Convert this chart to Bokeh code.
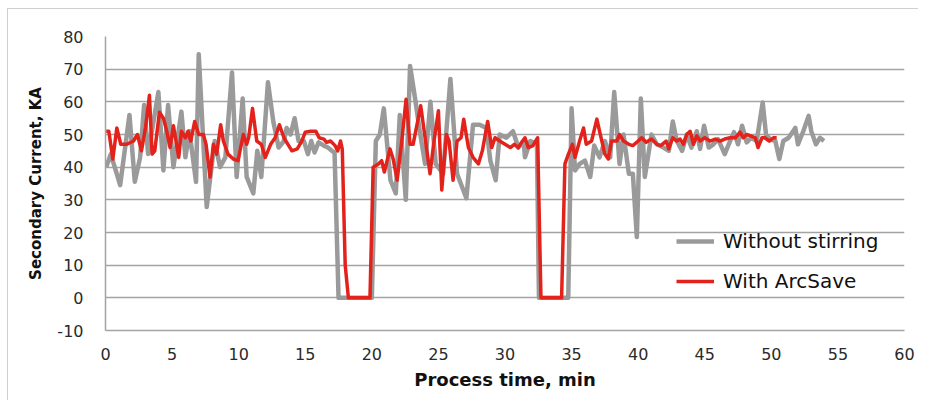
from bokeh.plotting import figure
from bokeh.models import Legend, LegendItem, FixedTicker
from bokeh.embed import file_html
from bokeh.resources import INLINE

# Without stirring (grey)
t_without = [0.05, 0.4, 1.1, 1.8, 2.2, 2.6, 2.9, 3.2, 3.97, 4.35, 4.7, 5.1, 5.7, 6.0, 6.3, 6.8, 7.0, 7.6,
             8.2, 8.6, 9.0, 9.5, 9.85, 10.3, 10.6, 11.1, 11.4, 11.7, 12.2, 12.6, 13.0, 13.4, 13.6, 13.9,
             14.2, 14.5, 14.9, 15.2, 15.45, 15.7, 16.0, 16.4, 16.7, 17.0, 17.2, 17.5, 20.0, 20.3, 20.6,
             20.9, 21.4, 21.8, 22.1, 22.55, 22.87, 23.25, 23.6, 24.0, 24.4, 24.8, 25.35, 25.9, 26.4, 27.1,
             27.6, 28.1, 28.6, 28.9, 29.3, 29.6, 30.1, 30.6, 31.0, 31.4, 31.5, 31.9, 32.4, 32.55, 34.75,
             35.0, 35.26, 35.6, 36.0, 36.4, 36.7, 37.1, 37.5, 37.9, 38.2, 38.6, 38.9, 39.3, 39.6, 39.9,
             40.2, 40.5, 41.0, 41.4, 41.9, 42.3, 42.6, 42.9, 43.3, 43.65, 44.0, 44.4, 44.65, 44.95, 45.3,
             45.65, 46.0, 46.5, 46.9, 47.2, 47.5, 47.8, 48.15, 48.5, 48.9, 49.35, 49.6, 49.9, 50.3, 50.6,
             50.9, 51.3, 51.8, 52.0, 52.4, 52.8, 53.0, 53.35, 53.65, 53.95]
i_without = [40, 44, 34.5, 56, 35.5, 43, 59, 44, 63, 39, 59, 40, 57, 43, 51, 35.5, 74.6, 27.8,
             48, 40, 43, 69, 37, 61, 37, 32, 45, 37, 66, 54, 46, 48, 52, 50,
             55, 48, 48, 44, 48, 44.5, 47.6, 46.6, 46, 45, 44.5, 0, 0, 48, 50,
             58, 36, 32, 56, 30, 71, 61, 51, 41, 60, 41, 38, 67, 38, 30.5,
             53, 53, 52, 42, 36, 50, 49, 51, 46, 48, 43, 48, 47, 0, 0,
             58, 39, 41, 42, 37, 46.6, 43, 48, 43, 63, 41, 50, 38, 38, 18.6,
             61, 37, 50, 47, 46, 45, 54, 48, 45, 50, 46, 51, 45.6, 52.7, 46,
             47, 48.6, 44, 48, 50.7, 47, 52.7, 47.6, 49, 48, 59.8, 50, 48.6, 48, 42.5,
             48, 49, 52, 47, 51, 55.7, 51, 47, 49, 48]

# With ArcSave (red)
t_arcsave = [0.05, 0.25, 0.55, 0.85, 1.15, 1.6, 2.1, 2.4, 2.7, 3.0, 3.3, 3.5, 3.7, 4.05, 4.35, 4.6, 4.85,
             5.1, 5.5, 5.7, 6.0, 6.2, 6.4, 6.7, 7.0, 7.35, 7.55, 7.85, 8.1, 8.35, 8.65, 8.85, 9.2, 9.6,
             9.95, 10.35, 10.6, 10.75, 11.04, 11.36, 11.7, 12.0, 12.4, 12.74, 13.06, 13.4, 13.7, 14.0,
             14.4, 14.74, 15.0, 15.4, 15.8, 16.04, 16.4, 16.6, 16.9, 17.24, 17.44, 17.65, 17.78, 18.0,
             18.24, 19.86, 20.1, 20.5, 20.74, 20.94, 21.36, 21.6, 21.9, 22.25, 22.57, 22.87, 23.1, 23.67,
             24.0, 24.37, 24.67, 25.0, 25.25, 25.6, 25.8, 26.1, 26.4, 26.7, 26.9, 27.25, 27.6, 28.0, 28.3,
             28.7, 29.0, 29.25, 29.6, 30.0, 30.4, 30.7, 31.0, 31.25, 31.5, 31.75, 32.1, 32.45, 32.7, 34.25,
             34.5, 34.76, 35.06, 35.26, 35.6, 35.9, 36.1, 36.5, 36.9, 37.1, 37.5, 37.76, 38.0, 38.4, 38.6,
             38.9, 39.3, 39.6, 40.0, 40.26, 40.6, 41.0, 41.4, 41.7, 42.1, 42.3, 42.6, 42.9, 43.15, 43.4,
             43.65, 43.9, 44.15, 44.4, 44.65, 45.0, 45.4, 45.8, 46.15, 46.5, 46.9, 47.3, 47.65, 47.9, 48.15,
             48.45, 48.8, 49.0, 49.3, 49.5, 49.85, 50.15, 50.4]
i_arcsave = [51, 51, 42.5, 52, 47, 47, 48, 50, 45, 52, 62, 44, 45, 56.8, 55, 51, 46,
             52.7, 43, 51, 49, 51, 48, 54, 50, 50, 47, 37, 47, 44, 53, 48, 44, 42.5,
             42, 50, 47, 49, 58, 48, 47, 43, 47, 49, 53, 49, 47, 45,
             45.6, 48, 50.7, 51, 51, 49, 48.6, 47.6, 48, 46.6, 45, 48, 45.5, 10,
             0, 0, 40, 41, 42, 38.5, 45.6, 42.5, 36, 48, 60.8, 47, 47, 58.8,
             49, 38, 48, 57.3, 33, 50, 48, 36, 48, 49, 54.7, 46, 43, 41, 45,
             54, 46, 49, 48, 47, 46, 47, 46, 47.6, 49, 46, 46.6, 49, 0, 0,
             41, 44, 47, 43, 48, 52, 47, 48, 54.7, 51, 44, 42.5, 48, 48, 50,
             48, 47, 46.6, 48, 49, 47.6, 48.6, 47, 46.6, 48, 45.6, 49, 48, 48.6, 47,
             50, 51, 47, 49.6, 48, 49, 48, 48.6, 48, 48.6, 49, 49, 50.7, 49, 50,
             49.6, 49, 46, 49, 49, 48, 49, 49]

x_ticks = [0, 5, 10, 15, 20, 25, 30, 35, 40, 45, 50, 55, 60]
y_ticks = [-10, 0, 10, 20, 30, 40, 50, 60, 70, 80]
y_tick_labels = ["-10", "0", "10", "20", "30", "40", "50", "60", "70", "80"]

FONT = "DejaVu Sans"
GRID = "#a3a3a3"
GREY = "#9a9a9a"
RED = "#e3221b"

# figure placed at (7, 8) by CSS margin, 1px border on top/left
p = figure(width=911, height=392, output_backend="svg", toolbar_location=None,
           x_range=(0, 60), y_range=(-10, 80),
           min_border_left=97, min_border_right=15, min_border_top=27, min_border_bottom=71)
p.styles = {"margin-left": "7px", "margin-top": "8px",
            "border-top": "1px solid #cfcfcf", "border-left": "1px solid #cfcfcf"}
p.outline_line_color = None
p.background_fill_color = "white"
p.border_fill_color = "white"

r_grey = p.line(t_without, i_without, line_color=GREY, line_width=4.5, line_join="round")
r_red = p.line(t_arcsave, i_arcsave, line_color=RED, line_width=3.5, line_join="round")

p.xgrid.grid_line_color = None
p.ygrid.grid_line_color = GRID
p.ygrid.grid_line_width = 1.5
p.ygrid.ticker = FixedTicker(ticks=y_ticks)

p.xaxis.ticker = FixedTicker(ticks=x_ticks)
p.yaxis.ticker = FixedTicker(ticks=y_ticks)
p.yaxis.major_label_overrides = dict(zip(y_ticks, y_tick_labels))
for ax in (p.xaxis, p.yaxis):
    ax.major_tick_line_color = None
    ax.minor_tick_line_color = None
    ax.major_label_text_font = FONT
    ax.major_label_text_font_size = "16px"
    ax.major_label_text_color = "#2a2a2a"
    ax.axis_label_text_font = FONT
    ax.axis_label_text_font_style = "bold"
    ax.axis_label_text_color = "#111111"
p.xaxis.axis_label_text_font_size = "18px"
p.yaxis.axis_label_text_font_size = "15px"
p.xaxis.axis_line_color = GRID
p.xaxis.axis_line_width = 1.5
p.yaxis.axis_line_color = GRID
p.yaxis.axis_line_width = 1.5
p.xaxis.major_label_standoff = 11
p.yaxis.major_label_standoff = 16
p.xaxis.axis_label = "Process time, min"
p.yaxis.axis_label = "Secondary Current, KA"
p.xaxis.axis_label_standoff = 6
p.yaxis.axis_label_standoff = 9

legend = Legend(items=[LegendItem(label="Without stirring", renderers=[r_grey]),
                       LegendItem(label="With ArcSave", renderers=[r_red])],
                location=(571, 37))
legend.border_line_color = None
legend.background_fill_alpha = 0
legend.padding = 0
legend.margin = 0
legend.spacing = 16
legend.glyph_width = 38
legend.glyph_height = 20
legend.label_height = 20
legend.label_standoff = 9
legend.label_text_font = FONT
legend.label_text_font_size = "20px"
legend.label_text_color = "#111111"
p.add_layout(legend, "center")

open("out.html", "w").write(file_html(p, INLINE))
